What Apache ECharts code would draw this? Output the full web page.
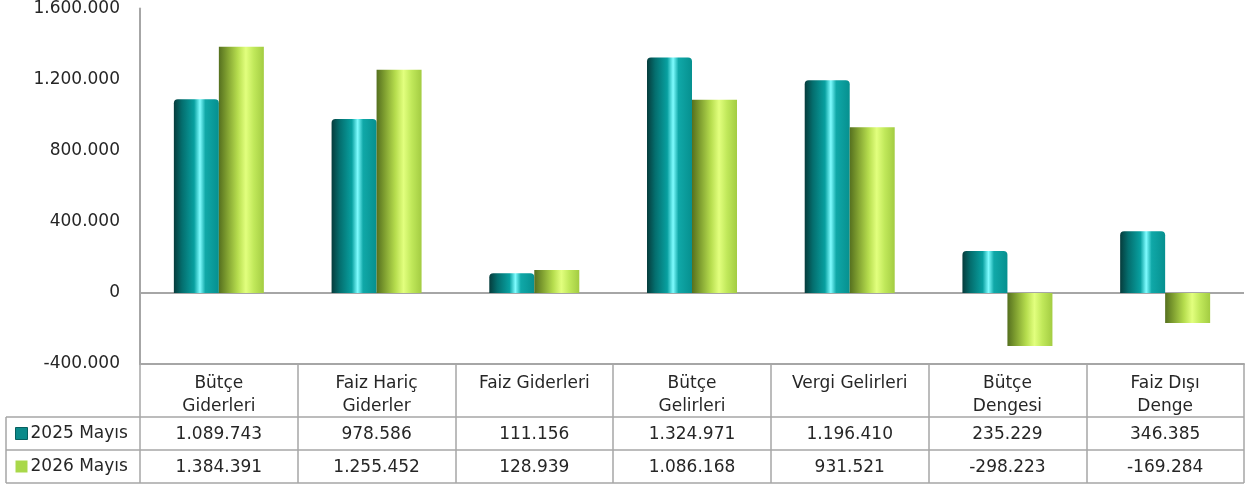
<!DOCTYPE html>
<html>
<head>
<meta charset="utf-8">
<script src="https://cdn.jsdelivr.net/npm/echarts@6/dist/echarts.min.js"></script>
<style>
html,body{margin:0;padding:0;background:#fff;}
#chart{width:1250px;height:489px;}
</style>
</head>
<body>
<div id="chart"></div>
<script>
// ---- data ----
const categories = ['Bütçe\nGiderleri', 'Faiz Hariç\nGiderler', 'Faiz Giderleri', 'Bütçe\nGelirleri', 'Vergi Gelirleri', 'Bütçe\nDengesi', 'Faiz Dışı\nDenge'];
const seriesNames = ['2025 Mayıs', '2026 Mayıs'];
const values2025 = [1089743, 978586, 111156, 1324971, 1196410, 235229, 346385];
const values2026 = [1384391, 1255452, 128939, 1086168, 931521, -298223, -169284];
const yMin = -400000, yMax = 1600000, yInterval = 400000;

// ---- layout ----
const W = 1250;
const gridLeft = 140, gridRight = 6, gridTop = 8, gridBottom = 125;
const tableTop = 489 - gridBottom;   // 364
const catRowH = 53, valRowH = 33;
const tableLeft = 6;
const lineColor = '#a6a6a6';
const textColor = '#262626';
const font = 'DejaVu Sans';

function fmt(v) {
  const s = Math.abs(v).toString().replace(/\B(?=(\d{3})+(?!\d))/g, '.');
  return (v < 0 ? '-' : '') + s;
}

const tealGrad = new echarts.graphic.LinearGradient(0, 0, 1, 0, [
  {offset: 0, color: '#063c3c'},
  {offset: 0.18, color: '#046e6e'},
  {offset: 0.45, color: '#08a0a0'},
  {offset: 0.58, color: '#7ffcff'},
  {offset: 0.70, color: '#10a8a8'},
  {offset: 1, color: '#06908f'}
]);
const greenGrad = new echarts.graphic.LinearGradient(0, 0, 1, 0, [
  {offset: 0, color: '#55701f'},
  {offset: 0.18, color: '#7f9f30'},
  {offset: 0.42, color: '#b6dd4e'},
  {offset: 0.60, color: '#e2ff7e'},
  {offset: 0.78, color: '#c0e85a'},
  {offset: 1, color: '#a3cc42'}
]);

const chart = echarts.init(document.getElementById('chart'), null, {renderer: 'canvas'});

const tableBottom = tableTop + catRowH + 2 * valRowH;
const hLines = [tableTop + catRowH, tableTop + catRowH + valRowH, tableBottom].map(y => ({
  type: 'line', shape: {x1: tableLeft, y1: y, x2: W - gridRight, y2: y},
  style: {stroke: lineColor, lineWidth: 1.5}, silent: true
}));
hLines.push({
  type: 'line', shape: {x1: tableLeft, y1: tableTop + catRowH, x2: tableLeft, y2: tableBottom},
  style: {stroke: lineColor, lineWidth: 1.5}, silent: true
});

chart.setOption({
  animation: false,
  backgroundColor: '#fff',
  textStyle: {fontFamily: font},
  grid: {left: gridLeft, right: gridRight, top: gridTop, bottom: gridBottom, containLabel: false},
  legend: {
    orient: 'vertical',
    left: 15, top: tableTop + catRowH + (valRowH - 20) / 2,
    padding: 0,
    itemWidth: 12, itemHeight: 12, itemGap: valRowH - 20,
    icon: 'rect',
    textStyle: {fontSize: 17, color: textColor, fontFamily: font, lineHeight: 20, padding: [0, 0, 0, -2]},
    data: [
      {name: seriesNames[0], itemStyle: {color: '#0b8a8a', borderColor: '#075f5f', borderWidth: 1}},
      {name: seriesNames[1], itemStyle: {color: '#a9d84a'}}
    ]
  },
  xAxis: {
    type: 'category',
    data: categories,
    position: 'bottom',
    axisLine: {onZero: false, lineStyle: {color: lineColor, width: 2}},
    axisTick: {show: true, interval: 0, length: catRowH + 2 * valRowH, lineStyle: {color: lineColor, width: 1.5}},
    axisLabel: {
      interval: 0,
      margin: 8,
      color: textColor,
      formatter: function (value, idx) {
        const lines = value.split('\n');
        if (lines.length < 2) lines.push(' ');
        return '{c|' + lines.join('\n') + '}\n{v|' + fmt(values2025[idx]) + '}\n{v|' + fmt(values2026[idx]) + '}';
      },
      rich: {
        c: {fontSize: 17, lineHeight: 23, color: textColor, fontFamily: font, align: 'center'},
        v: {fontSize: 17, lineHeight: 33, color: textColor, fontFamily: font, align: 'center'}
      }
    },
    splitLine: {show: false}
  },
  yAxis: {
    type: 'value',
    min: yMin, max: yMax, interval: yInterval,
    axisLine: {show: true, lineStyle: {color: lineColor, width: 2}},
    axisTick: {show: false},
    splitLine: {show: false},
    axisLabel: {fontSize: 17, color: textColor, margin: 20, fontFamily: font, padding: [5, 0, 0, 0], formatter: v => fmt(v)}
  },
  series: [
    {
      name: seriesNames[0], type: 'bar', data: values2025,
      barWidth: 45, barGap: '0%',
      itemStyle: {color: tealGrad, borderRadius: [4, 4, 0, 0]},
      markLine: {
        silent: true, symbol: ['none', 'none'], label: {show: false},
        lineStyle: {color: lineColor, width: 2, type: 'solid'},
        data: [{yAxis: 0}], z: 1
      }
    },
    {
      name: seriesNames[1], type: 'bar', data: values2026,
      barWidth: 45, barGap: '0%',
      itemStyle: {color: greenGrad}
    }
  ],
  graphic: hLines
});
</script>
</body>
</html>
